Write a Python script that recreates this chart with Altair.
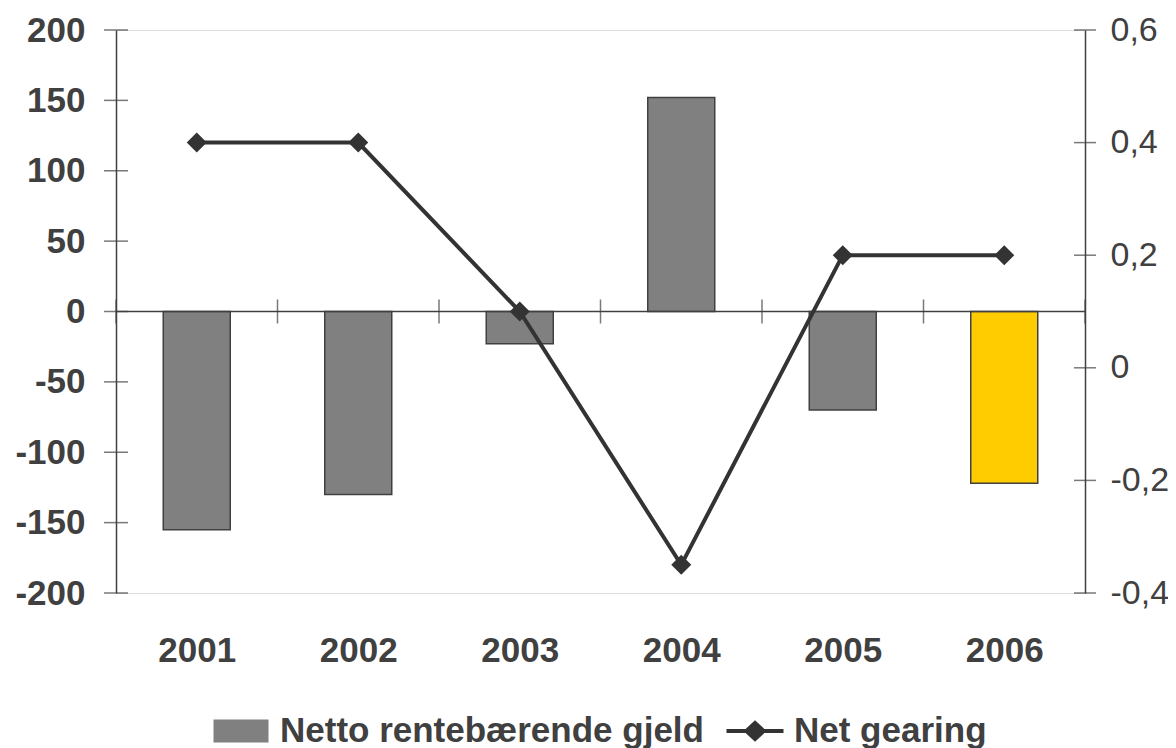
import altair as alt
import pandas as pd

# ---- data ----
years = [2001, 2002, 2003, 2004, 2005, 2006]
debt = [-155, -130, -23, 152, -70, -122]          # Netto rentebærende gjeld
gearing = [0.4, 0.4, 0.1, -0.35, 0.2, 0.2]        # Net gearing
highlight_year = 2006
left_ticks = [-200, -150, -100, -50, 0, 50, 100, 150, 200]
right_ticks = [-0.4, -0.2, 0, 0.2, 0.4, 0.6]
series = ["Netto rentebærende gjeld", "Net gearing"]
series_colors = ["#808080", "#333333"]

W, H = 969, 563
FONT = "Liberation Sans"
AX = "#404040"

df = pd.DataFrame({
    "year": years,
    "pos": [i + 0.5 for i in range(len(years))],
    "debt": debt,
    "gearing": gearing,
})
bounds = pd.DataFrame({"b": list(range(len(years) + 1)), "z": 0})
lt = pd.DataFrame({"v": left_ticks})
rt = pd.DataFrame({"rv": right_ticks})

xs = alt.Scale(domain=[0, len(years)], nice=False, zero=False, padding=0)
ysl = alt.Scale(domain=[-200, 200], nice=False)
ysr = alt.Scale(domain=[-0.4, 0.6], nice=False)

year_arr = "[" + ",".join("'%d'" % y for y in years) + "]"
xaxis = alt.Axis(values=[i + 0.5 for i in range(len(years))],
                 labelExpr=year_arr + "[floor(datum.value)]",
                 domain=False, ticks=False, grid=False, title=None,
                 labelFont=FONT, labelFontSize=35, labelFontWeight="bold",
                 labelColor=AX, labelPadding=40)
yaxis_l = alt.Axis(values=left_ticks, labelExpr="toString(datum.value)",
                   ticks=False, grid=False, title=None, domainColor=AX, domainWidth=1.5,
                   labelFont=FONT, labelFontSize=35, labelFontWeight="bold",
                   labelColor=AX, labelPadding=31)
yaxis_r = alt.Axis(orient="right", values=right_ticks,
                   labelExpr="replace(toString(datum.value), '.', ',')",
                   ticks=False, grid=False, title=None, domainColor=AX, domainWidth=1.5,
                   labelFont=FONT, labelFontSize=34, labelFontWeight="normal",
                   labelColor=AX, labelPadding=25)

bars = alt.Chart(df).mark_bar(size=67, stroke=AX, strokeWidth=1.5, orient="vertical").encode(
    x=alt.X("pos:Q", scale=xs, axis=xaxis),
    y=alt.Y("debt:Q", scale=ysl, axis=yaxis_l, stack=None),
    fill=alt.condition("datum.year == %d" % highlight_year, alt.value("#FFCC00"), alt.value("#808080")),
)
zero_rule = alt.Chart(pd.DataFrame({"z": [0]})).mark_rule(color=AX, strokeWidth=1.5).encode(
    y=alt.Y("z:Q", scale=ysl, axis=yaxis_l),
)
lticks = alt.Chart(lt).mark_tick(orient="horizontal", size=24, thickness=1.5, color=AX).encode(
    y=alt.Y("v:Q", scale=ysl, axis=yaxis_l),
    x=alt.value(0),
)
xticks = alt.Chart(bounds).mark_tick(orient="vertical", size=24, thickness=1.5, color=AX).encode(
    x=alt.X("b:Q", scale=xs, axis=xaxis),
    y=alt.Y("z:Q", scale=ysl, axis=yaxis_l),
)
left = alt.layer(bars, zero_rule, lticks, xticks)

line = alt.Chart(df).mark_line(color="#333333", strokeWidth=4).encode(
    x=alt.X("pos:Q", scale=xs, axis=xaxis),
    y=alt.Y("gearing:Q", scale=ysr, axis=yaxis_r),
)
pts = alt.Chart(df).mark_point(shape="diamond", filled=True, size=400, color="#333333", opacity=1).encode(
    x=alt.X("pos:Q", scale=xs, axis=xaxis),
    y=alt.Y("gearing:Q", scale=ysr, axis=yaxis_r),
)
rticks = alt.Chart(rt).mark_tick(orient="horizontal", size=22, thickness=1.5, color=AX).encode(
    y=alt.Y("rv:Q", scale=ysr, axis=yaxis_r),
    x=alt.value(W),
)

rect_path = "M-0.965,-0.4H0.965V0.4H-0.965Z"
line_path = ("M-1,-0.07H-0.33L0,-0.38L0.33,-0.07H1V0.07H0.33L0,0.38L-0.33,0.07H-1Z")
leg = alt.Legend(orient="none", direction="horizontal", title=None, legendX=96, legendY=672,
                 labelFont=FONT, labelFontSize=35, labelFontWeight="bold", labelColor=AX,
                 labelLimit=0, symbolSize=3249, columnPadding=20, labelOffset=10,
                 symbolStrokeColor=AX, symbolStrokeWidth=1, symbolOpacity=1)
ghost = alt.Chart(pd.DataFrame({"series": series})).transform_filter("false").mark_point(
    filled=True, opacity=1).encode(
    color=alt.Color("series:N", scale=alt.Scale(domain=series, range=series_colors), legend=leg),
    shape=alt.Shape("series:N", scale=alt.Scale(domain=series, range=[rect_path, line_path]), legend=leg),
)
right = alt.layer(line, pts, rticks, ghost)

chart = alt.layer(left, right).resolve_scale(y="independent").properties(
    width=W, height=H,
    autosize=alt.AutoSizeParams(type="none"),
    padding={"left": 108, "top": 22, "right": 83, "bottom": 155},
).configure_view(stroke=None).configure(background="white")

chart.save("out.html", embed_options={"renderer": "svg", "actions": False})
